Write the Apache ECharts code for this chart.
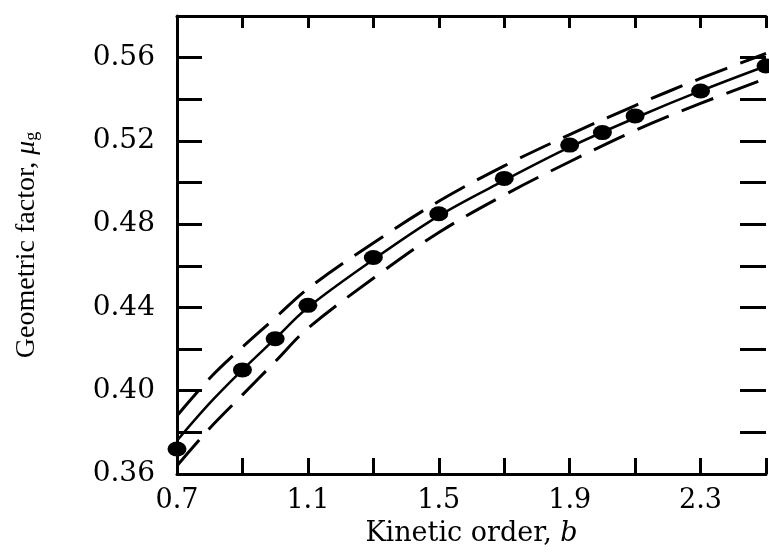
<!DOCTYPE html>
<html>
<head>
<meta charset="utf-8">
<script src="https://cdn.jsdelivr.net/npm/echarts@6/dist/echarts.min.js"></script>
<style>
    html,body{margin:0;padding:0;background:#fff;}
    #chart{width:769px;height:552px;}
</style>
</head>
<body>
<div id="chart"></div>
<script>
// measured points (filled circles)
var pointX = [0.7, 0.9, 1.0, 1.1, 1.3, 1.5, 1.7, 1.9, 2.0, 2.1, 2.3, 2.5];
var pointY = [0.372, 0.410, 0.425, 0.441, 0.464, 0.485, 0.502, 0.518, 0.524, 0.532, 0.544, 0.556];
// fitted curve and the dashed band around it
var curveX = [0.7, 0.8, 0.9, 1.0, 1.1, 1.3, 1.5, 1.7, 1.9, 2.1, 2.3, 2.5];
var fitY   = [0.376, 0.394, 0.410, 0.425, 0.440, 0.463, 0.484, 0.501, 0.517, 0.531, 0.544, 0.556];
var upperY = [0.388, 0.406, 0.421, 0.435, 0.449, 0.471, 0.491, 0.508, 0.523, 0.537, 0.550, 0.562];
var lowerY = [0.364, 0.382, 0.398, 0.414, 0.430, 0.454, 0.476, 0.494, 0.510, 0.525, 0.538, 0.550];

var font = 'DejaVu Serif';

function pairs(xs, ys) {
    var out = [];
    for (var i = 0; i < xs.length; i++) {
        out.push([xs[i], ys[i]]);
    }
    return out;
}

var chart = echarts.init(document.getElementById('chart'));
var lineCommon = {type: 'line', smooth: 0.35, showSymbol: false, symbol: 'none', z: 3};

chart.setOption({
    animation: false,
    backgroundColor: '#fff',
    grid: {left: 177, right: 0, top: 16, bottom: 70},
    xAxis: [{
        type: 'value', min: 0.7, max: 2.5, interval: 0.2,
        name: '{n|Kinetic order, }{i|b}', nameLocation: 'middle', nameGap: 46,
        nameTextStyle: {rich: {
            n: {fontFamily: font, fontSize: 27, color: '#000'},
            i: {fontFamily: font, fontSize: 27, fontStyle: 'italic', color: '#000'}
        }},
        splitLine: {show: false},
        axisLine: {show: true, lineStyle: {color: '#000', width: 3}},
        axisTick: {inside: true, length: 16, lineStyle: {color: '#000', width: 3}},
        axisLabel: {
            margin: 13, fontFamily: font, fontSize: 27, color: '#000',
            formatter: function (v, idx) { return idx % 2 === 0 ? v.toFixed(1) : ''; }
        }
    }, {
        type: 'value', position: 'top', min: 0.7, max: 2.5, interval: 0.2,
        splitLine: {show: false},
        axisLine: {show: true, lineStyle: {color: '#000', width: 3}},
        axisTick: {inside: true, length: 12, lineStyle: {color: '#000', width: 3}},
        axisLabel: {show: false}
    }],
    yAxis: [{
        type: 'value', min: 0.36, max: 0.58, interval: 0.02,
        name: '{n|Geometric factor, }{i|μ}{s|g}', nameLocation: 'middle', nameGap: 136, nameRotate: 90,
        nameTextStyle: {rich: {
            n: {fontFamily: 'Liberation Serif', fontSize: 28, color: '#000'},
            i: {fontFamily: 'Liberation Serif', fontSize: 28, fontStyle: 'italic', color: '#000'},
            s: {fontFamily: 'Liberation Serif', fontSize: 18, color: '#000', padding: [10, 0, 0, 0]}
        }},
        splitLine: {show: false},
        axisLine: {show: true, lineStyle: {color: '#000', width: 3}},
        axisTick: {inside: true, length: 25, lineStyle: {color: '#000', width: 3}},
        axisLabel: {
            margin: 22, fontFamily: font, fontSize: 28, color: '#000',
            formatter: function (v, idx) { return idx % 2 === 0 ? v.toFixed(2) : ''; }
        }
    }, {
        type: 'value', position: 'right', min: 0.36, max: 0.58, interval: 0.02,
        splitLine: {show: false},
        axisLine: {show: false},
        axisTick: {show: true, inside: true, length: 26, lineStyle: {color: '#000', width: 3}},
        axisLabel: {show: false}
    }],
    series: [
        echarts.util.extend({
            name: 'fit', data: pairs(curveX, fitY),
            lineStyle: {color: '#000', width: 2.5}
        }, lineCommon),
        echarts.util.extend({
            name: 'upper', data: pairs(curveX, upperY),
            lineStyle: {color: '#000', width: 3, type: [34, 14]}
        }, lineCommon),
        echarts.util.extend({
            name: 'lower', data: pairs(curveX, lowerY),
            lineStyle: {color: '#000', width: 3, type: [34, 14]}
        }, lineCommon),
        {
            name: 'measured', type: 'scatter', z: 4,
            symbol: 'circle', symbolSize: [19, 15],
            itemStyle: {color: '#000', opacity: 1},
            data: pairs(pointX, pointY)
        }
    ]
});
</script>
</body>
</html>
